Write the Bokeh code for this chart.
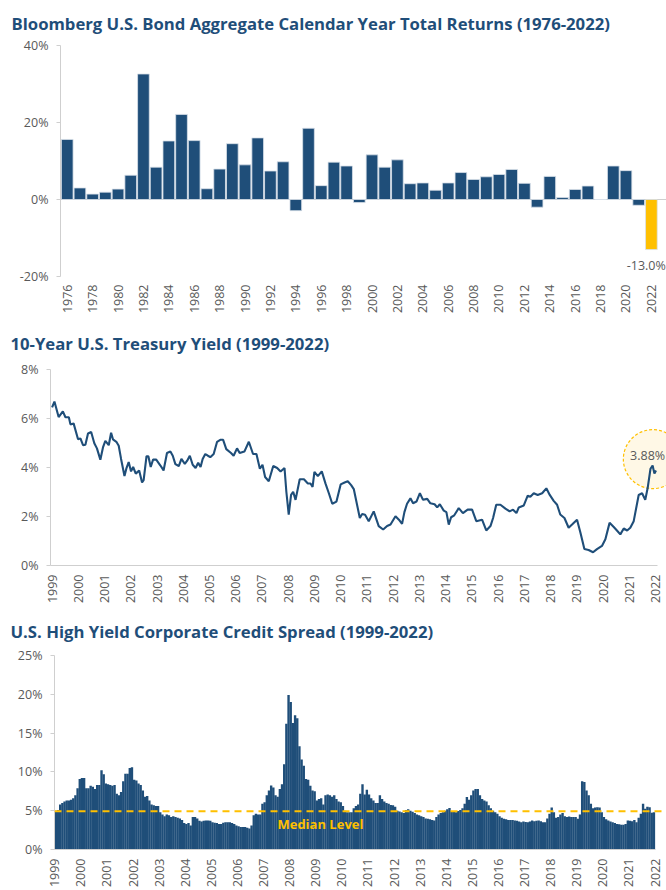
import math
import numpy as np
from bokeh.plotting import figure
from bokeh.models import FixedTicker, Span, CustomJSTickFormatter
from bokeh.core.properties import value
from bokeh.embed import file_html
from bokeh.resources import INLINE

# ---------------- data ----------------
agg_years = list(range(1976, 2023))
agg_returns = [15.6, 3.0, 1.4, 1.9, 2.7, 6.3, 32.6, 8.4, 15.2, 22.1,
               15.3, 2.8, 7.9, 14.5, 9.0, 16.0, 7.4, 9.8, -2.9, 18.5,
               3.6, 9.7, 8.7, -0.8, 11.6, 8.4, 10.3, 4.1, 4.3, 2.4,
               4.3, 7.0, 5.2, 5.9, 6.5, 7.8, 4.2, -2.0, 6.0, 0.5,
               2.6, 3.5, 0.0, 8.7, 7.5, -1.5, -13.0]
agg_tick_years = list(range(1976, 2023, 2))

tsy_t = [1999.00, 1999.09, 1999.25, 1999.41, 1999.51, 1999.64, 1999.70, 1999.82, 1999.99,
         2000.08, 2000.18, 2000.27, 2000.37, 2000.49, 2000.61, 2000.71, 2000.84, 2000.94,
         2001.03, 2001.16, 2001.25, 2001.32, 2001.45, 2001.54, 2001.63, 2001.76, 2001.83, 2001.92,
         2002.01, 2002.09, 2002.19, 2002.32, 2002.43, 2002.49, 2002.60, 2002.67, 2002.76, 2002.85, 2002.97,
         2003.13, 2003.25, 2003.38, 2003.51, 2003.60, 2003.70, 2003.83, 2003.93,
         2004.06, 2004.15, 2004.25, 2004.36, 2004.47, 2004.57, 2004.66, 2004.74, 2004.84, 2004.94,
         2005.03, 2005.16, 2005.29, 2005.41, 2005.52, 2005.64, 2005.82, 2005.92,
         2006.05, 2006.15, 2006.33, 2006.50, 2006.66, 2006.79, 2006.92,
         2007.02, 2007.12, 2007.26, 2007.43, 2007.58, 2007.71, 2007.86, 2007.93,
         2008.02, 2008.11, 2008.19, 2008.28, 2008.44, 2008.60, 2008.75, 2008.85, 2008.93,
         2009.00, 2009.13, 2009.28, 2009.42, 2009.55, 2009.68, 2009.84,
         2010.00, 2010.15, 2010.27, 2010.40, 2010.50, 2010.73, 2010.82, 2010.93,
         2011.07, 2011.26, 2011.45, 2011.62, 2011.77, 2011.90,
         2012.09, 2012.22, 2012.34, 2012.43, 2012.53, 2012.66, 2012.76, 2012.89,
         2013.02, 2013.14, 2013.30, 2013.42, 2013.58, 2013.68, 2013.78, 2013.93,
         2014.03, 2014.12, 2014.21, 2014.33, 2014.50, 2014.66, 2014.84,
         2015.01, 2015.17, 2015.39, 2015.55, 2015.71, 2015.81, 2015.93,
         2016.09, 2016.28, 2016.44, 2016.57, 2016.70, 2016.79, 2016.98,
         2017.13, 2017.23, 2017.36, 2017.51, 2017.68, 2017.84, 2017.97,
         2018.12, 2018.25, 2018.37, 2018.53, 2018.69, 2018.82,
         2019.01, 2019.14, 2019.29, 2019.45, 2019.62, 2019.77, 2019.96,
         2020.09, 2020.25, 2020.41, 2020.53, 2020.66, 2020.79, 2020.92,
         2021.04, 2021.17, 2021.36, 2021.49, 2021.61, 2021.70, 2021.81, 2021.89, 2021.96, 2022.02]
tsy_yield = [6.45, 6.69, 6.06, 6.29, 6.05, 6.05, 5.76, 5.80, 5.15,
             5.19, 4.91, 4.93, 5.39, 5.45, 4.99, 4.78, 4.32, 4.82,
             5.09, 4.91, 5.42, 5.15, 5.05, 4.89, 4.35, 3.65, 3.95, 4.22,
             3.84, 4.02, 3.75, 3.88, 3.39, 3.48, 4.46, 4.46, 4.02, 4.32, 4.32,
             4.08, 3.88, 4.59, 4.65, 4.48, 4.14, 4.06, 4.35,
             4.15, 4.28, 4.48, 4.11, 3.98, 4.19, 4.02, 4.35, 4.55, 4.48,
             4.42, 4.55, 5.05, 5.13, 5.13, 4.75, 4.59, 4.48,
             4.78, 4.59, 4.65, 5.05, 4.55, 4.55, 3.95,
             4.11, 3.61, 3.44, 4.06, 3.98, 3.84, 3.98, 3.01,
             2.08, 2.88, 3.01, 2.68, 3.52, 3.52, 3.35, 3.35, 3.21,
             3.82, 3.65, 3.84, 3.35, 2.95, 2.52, 2.61,
             3.31, 3.39, 3.44, 3.28, 3.12, 1.94, 2.10, 2.07,
             1.81, 2.21, 1.61, 1.47, 1.61, 1.67,
             2.01, 1.87, 1.70, 2.18, 2.52, 2.74, 2.54, 2.61,
             2.95, 2.68, 2.72, 2.54, 2.50, 2.37, 2.50, 2.24,
             2.18, 1.67, 1.97, 2.05, 2.34, 2.14, 2.28,
             2.28, 1.81, 1.87, 1.43, 1.61, 1.94, 2.48,
             2.48, 2.32, 2.21, 2.28, 2.14, 2.37, 2.45,
             2.85, 2.81, 2.95, 2.88, 2.95, 3.15, 2.88,
             2.64, 2.48, 2.08, 1.94, 1.54, 1.67,
             1.87, 1.34, 0.67, 0.63, 0.54, 0.67, 0.80,
             1.07, 1.74, 1.57, 1.43, 1.27, 1.51, 1.43,
             1.54, 1.81, 2.88, 2.95, 2.68, 3.15, 3.95, 4.08, 3.75, 3.88]
axis_years = list(range(1999, 2023))

hy_1999 = [5.0, 5.1, 5.8, 6.0, 6.2, 6.3, 6.3, 6.4, 6.6, 7.0, 7.9, 9.1]
hy_2000 = [9.2, 9.2, 7.9, 7.9, 8.2, 8.1, 7.8, 8.3, 8.3, 10.2, 9.7, 8.5]
hy_2001 = [8.4, 8.3, 8.2, 8.3, 7.2, 7.0, 7.4, 8.8, 9.75, 9.75, 10.5, 10.6]
hy_2002 = [9.0, 8.9, 8.5, 8.3, 7.6, 6.8, 6.9, 6.3, 5.8, 5.7, 5.6, 5.6]
hy_2003 = [4.8, 4.5, 4.3, 4.5, 4.4, 4.2, 4.3, 4.2, 4.1, 4.0, 3.8, 3.4]
hy_2004 = [3.3, 3.4, 3.1, 4.2, 4.2, 4.0, 3.7, 3.6, 3.7, 3.75, 3.75, 3.7]
hy_2005 = [3.5, 3.45, 3.4, 3.3, 3.3, 3.45, 3.5, 3.5, 3.5, 3.4, 3.3, 3.1]
hy_2006 = [3.0, 2.9, 2.9, 2.9, 2.8, 2.7, 3.1, 4.4, 4.6, 4.5, 4.5, 5.9]
hy_2007 = [6.1, 7.0, 7.6, 8.25, 8.0, 7.0, 6.8, 7.8, 8.4, 11.0, 16.2, 19.9]
hy_2008 = [19.0, 16.3, 17.3, 16.9, 13.3, 11.6, 10.8, 9.1, 9.0, 8.2, 7.6, 7.5]
hy_2009 = [6.3, 6.5, 6.6, 5.8, 7.0, 7.1, 7.0, 6.8, 7.0, 6.5, 6.2, 6.1]
hy_2010 = [5.6, 5.0, 4.8, 4.8, 4.8, 5.3, 5.6, 5.8, 7.2, 8.4, 7.1, 7.7]
hy_2011 = [7.1, 6.6, 6.3, 6.0, 6.0, 7.0, 6.5, 6.2, 6.0, 5.9, 5.75, 5.7]
hy_2012 = [5.5, 5.0, 4.9, 4.8, 4.7, 5.1, 5.2, 5.0, 4.85, 4.7, 4.5, 4.4]
hy_2013 = [4.3, 4.2, 4.0, 3.95, 3.9, 3.8, 3.75, 4.2, 4.5, 4.7, 4.8, 5.0]
hy_2014 = [5.2, 5.35, 4.95, 4.85, 4.8, 4.95, 5.1, 5.3, 5.9, 6.75, 6.4, 7.0]
hy_2015 = [7.6, 7.8, 7.8, 7.0, 6.5, 6.3, 6.2, 5.7, 5.3, 5.0, 4.8, 4.6]
hy_2016 = [4.3, 4.1, 3.95, 3.9, 3.8, 3.8, 3.8, 3.75, 3.7, 3.6, 3.5, 3.6]
hy_2017 = [3.55, 3.5, 3.6, 3.75, 3.65, 3.7, 3.75, 3.65, 3.5, 3.5, 4.0, 4.6]
hy_2018 = [5.4, 4.8, 4.1, 4.2, 4.5, 4.7, 4.3, 4.2, 4.25, 4.2, 4.2, 4.2]
hy_2019 = [3.95, 4.5, 8.8, 8.7, 7.6, 7.0, 5.9, 5.3, 5.4, 5.45, 5.4, 4.8]
hy_2020 = [4.2, 3.9, 3.75, 3.6, 3.5, 3.4, 3.3, 3.25, 3.2, 3.2, 3.3, 3.75]
hy_2021 = [3.7, 3.65, 3.8, 3.5, 4.1, 4.6, 5.9, 5.25, 5.5, 5.45, 4.75, 4.8]
hy_median = 4.94

hy_spread = (hy_1999 + hy_2000 + hy_2001 + hy_2002 + hy_2003 + hy_2004 + hy_2005 +
             hy_2006 + hy_2007 + hy_2008 + hy_2009 + hy_2010 + hy_2011 + hy_2012 +
             hy_2013 + hy_2014 + hy_2015 + hy_2016 + hy_2017 + hy_2018 + hy_2019 +
             hy_2020 + hy_2021)
hy_t = 1999 + (np.arange(len(hy_spread)) + 0.5) / 12.0

titles = ["Bloomberg U.S. Bond Aggregate Calendar Year Total Returns (1976-2022)",
          "10-Year U.S. Treasury Yield (1999-2022)",
          "U.S. High Yield Corporate Credit Spread (1999-2022)"]

# ---------------- styles ----------------
NAVY = "#1f4e79"
GOLD = "#ffc000"
GRAY_TXT = "#595959"
AXIS_GRAY = "#cfcfcf"
FONT = "Open Sans"
pct = CustomJSTickFormatter(code="return tick.toFixed(0) + '%';")
yr = CustomJSTickFormatter(code="return tick.toFixed(0);")


def make_fig(title, height, xr, yr_, left, top, bottom):
    return figure(width=666, height=height, x_range=xr, y_range=yr_, title=title,
                  min_border_left=left, min_border_right=0, min_border_top=top,
                  min_border_bottom=bottom, toolbar_location=None, output_backend="svg")


def style(p, title_offset, title_standoff, x_standoff):
    p.title.text_font = FONT
    p.title.text_font_style = "bold"
    p.title.text_font_size = "16.7px"
    p.title.text_color = NAVY
    p.title.align = "left"
    p.title.vertical_align = "top"
    p.title.offset = title_offset
    p.title.standoff = title_standoff
    p.outline_line_color = None
    p.xgrid.grid_line_color = None
    p.ygrid.grid_line_color = None
    p.background_fill_color = "white"
    for ax in (p.xaxis[0], p.yaxis[0]):
        ax.major_label_text_font = FONT
        ax.major_label_text_font_size = "12.5px"
        ax.major_label_text_color = GRAY_TXT
        ax.minor_tick_line_color = None
        ax.axis_line_color = AXIS_GRAY
        ax.major_tick_line_color = AXIS_GRAY
    p.yaxis[0].major_tick_out = 4
    p.yaxis[0].major_tick_in = 0
    p.yaxis[0].major_label_standoff = 8
    p.yaxis[0].formatter = pct
    p.xaxis[0].major_tick_out = 0
    p.xaxis[0].major_tick_in = 0
    p.xaxis[0].major_label_orientation = math.pi / 2
    p.xaxis[0].major_label_standoff = x_standoff
    p.xaxis[0].formatter = yr


# ---------------- chart 1 ----------------
p1 = make_fig(titles[0], 316, (1975.47, 2023.19), (-20, 40), 60, 45, 39)
style(p1, -49, 18, 8)
p1.xaxis[0].axis_line_color = None
p1.xaxis[0].ticker = FixedTicker(ticks=agg_tick_years)
p1.yaxis[0].ticker = FixedTicker(ticks=[-20, 0, 20, 40])
p1.add_layout(Span(location=0, dimension="width", line_color=AXIS_GRAY, line_width=1, level="underlay"))
bar_colors = [NAVY] * (len(agg_years) - 1) + [GOLD]
p1.vbar(x=agg_years, top=agg_returns, bottom=0, width=0.92, fill_color=bar_colors,
        line_color="#d9e1ea", line_width=0.8)
p1.text(x=[agg_years[-1] - 0.4], y=[agg_returns[-1] - 4.2],
        text=[f"{agg_returns[-1]:.1f}%"], text_align="center", text_baseline="middle",
        text_font=value(FONT), text_font_size="12.5px", text_color=GRAY_TXT)

# ---------------- chart 2 ----------------
p2 = make_fig(titles[1], 290, (1998.94, 2022.42), (0, 8), 50, 53, 38)
style(p2, -40, 26, 9)
p2.xaxis[0].ticker = FixedTicker(ticks=axis_years)
p2.xaxis[0].bounds = (1998.94, tsy_t[-1] + 0.07)
p2.yaxis[0].ticker = FixedTicker(ticks=[0, 2, 4, 6, 8])
p2.scatter(x=[tsy_t[-1] - 0.12], y=[tsy_yield[-1] + 0.46], size=59, marker="circle",
           fill_color="#fff8e6", line_color=GOLD, line_dash="3 2", line_width=1.2)
p2.line(tsy_t, tsy_yield, line_color=NAVY, line_width=2.1)
p2.text(x=[tsy_t[-1] - 0.32], y=[tsy_yield[-1] + 0.63], text=[f"{tsy_yield[-1]:.2f}%"],
        text_align="center", text_baseline="middle",
        text_font=value(FONT), text_font_size="12.5px", text_color=GRAY_TXT)

# ---------------- chart 3 ----------------
p3 = make_fig(titles[2], 284, (1998.99, 2022.44), (0, 25), 54, 49, 41)
style(p3, -44, 22, 9)
p3.xaxis[0].ticker = FixedTicker(ticks=axis_years)
p3.xaxis[0].bounds = (1998.99, hy_t[-1] + 1 / 24)
p3.yaxis[0].ticker = FixedTicker(ticks=[0, 5, 10, 15, 20, 25])
p3.vbar(x=hy_t, top=hy_spread, bottom=0, width=1 / 12 + 0.008, fill_color=NAVY, line_color=None)
p3.add_layout(Span(location=hy_median, dimension="width", line_color=GOLD, line_width=2,
                   line_dash="7 5"))
p3.text(x=[2009.18], y=[hy_median - 1.6], text=["Median Level"], text_align="center",
        text_baseline="middle", text_font=value(FONT), text_font_style="bold",
        text_font_size="13px", text_color=GOLD)

open("out.html", "w").write(file_html([p1, p2, p3], INLINE))
